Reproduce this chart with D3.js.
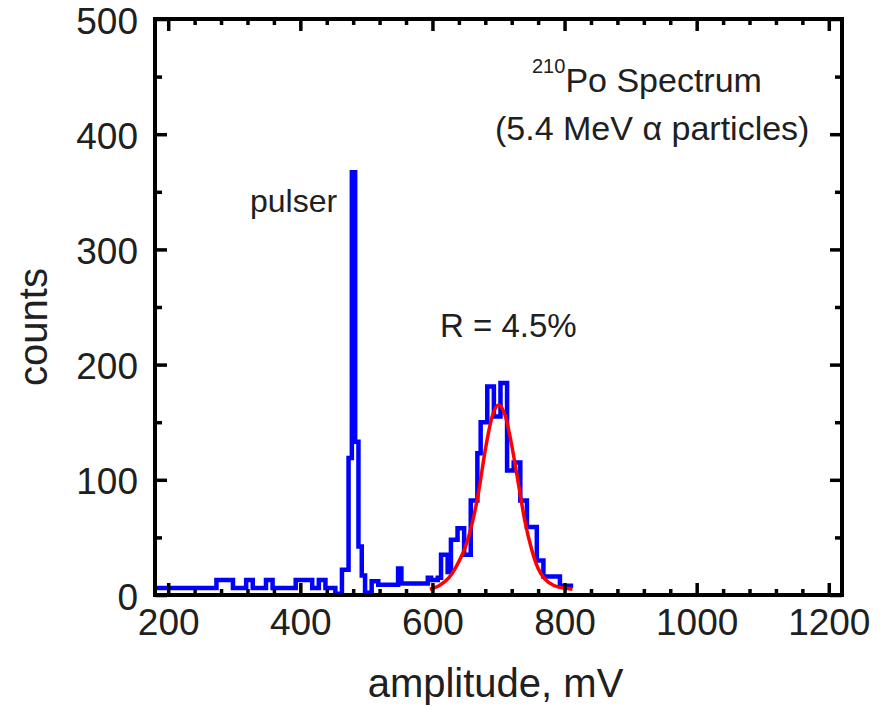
<!DOCTYPE html>
<html>
<head>
<meta charset="utf-8">
<script src="https://cdn.jsdelivr.net/npm/d3@7"></script>
<style>
  body { margin: 0; background: #fff; }
  text { font-family: "Liberation Sans", Arial, sans-serif; fill: #202020; }
</style>
</head>
<body>
<div class="chart"></div>
<script>
// 210Po spectrum histogram, 5 mV bins, first bin edge at 178 mV
var binStart = 178
var binWidth = 5
var counts = [
  6, 6, 6, 6, 6, 6, 6, 6, 6, 6,
  6, 6, 6, 6, 6, 6, 6, 6, 6, 13,
  13, 13, 13, 13, 6, 6, 6, 6, 13, 13,
  6, 6, 6, 6, 13, 13, 6, 6, 6, 6,
  6, 6, 6, 13, 13, 13, 13, 13, 6, 6,
  13, 13, 6, 6, 6, 1, 1, 22, 22, 119,
  367, 133, 42, 17, 2, 2, 12, 12, 9, 9,
  9, 9, 9, 9, 23, 10, 10, 10, 10, 10,
  10, 10, 10, 15, 13, 13, 15, 35, 35, 20,
  48, 48, 58, 58, 35, 35, 82, 82, 123, 150,
  150, 181, 181, 155, 155, 184, 184, 108, 108, 115,
  115, 82, 82, 59, 59, 59, 30, 30, 16, 16,
  16, 16, 16, 8, 8, 8, 8
]

// gaussian fit (red)
var fitAmplitude = [596, 610, 625, 640, 650, 660, 670, 680, 690, 700, 710, 720, 730, 740, 750, 760, 770, 785, 800, 812]
var fitCounts    = [5, 8, 15, 29, 42, 62, 90, 126, 154, 165, 156, 130, 97, 64, 40, 23, 14, 8, 6, 5]

var xMajorTicks = [200, 400, 600, 800, 1000, 1200]
var yMajorTicks = [0, 100, 200, 300, 400, 500]

var margin = { top: 19, right: 43, bottom: 115, left: 155 }
var width = 885 - margin.left - margin.right
var height = 710 - margin.top - margin.bottom

var svg = d3.select('.chart')
  .append('svg')
    .attr('width', width + margin.left + margin.right)
    .attr('height', height + margin.top + margin.bottom)
  .append('g')
    .attr('transform', `translate(${margin.left}, ${margin.top})`)

var xScale = d3.scaleLinear().domain([180, 1220]).range([0, width])
var yScale = d3.scaleLinear().domain([0, 500]).range([height, 0])

var xMinorTicks = d3.range(200, 1201, 40).filter(d => xMajorTicks.indexOf(d) < 0)
var yMinorTicks = d3.range(50, 500, 100)

svg.append('clipPath').attr('id', 'plot')
  .append('rect').attr('width', width).attr('height', height)

// histogram as a step line
var steps = counts.map((c, i) => [binStart + i * binWidth, c])
steps.push([binStart + counts.length * binWidth, counts[counts.length - 1]])

svg.append('path')
  .datum(steps)
  .attr('clip-path', 'url(#plot)')
  .attr('fill', 'none')
  .attr('stroke', '#0000ff')
  .attr('stroke-width', 4.5)
  .attr('d', d3.line().x(d => xScale(d[0])).y(d => yScale(d[1])).curve(d3.curveStepAfter))

svg.append('path')
  .datum(fitAmplitude.map((a, i) => [a, fitCounts[i]]))
  .attr('fill', 'none')
  .attr('stroke', '#ff0000')
  .attr('stroke-width', 3.5)
  .attr('d', d3.line().x(d => xScale(d[0])).y(d => yScale(d[1])).curve(d3.curveMonotoneX))

// axes: ticks point inward on all four sides
function styleAxis(g, size) {
  g.select('.domain').remove()
  g.attr('font-size', size).attr('font-family', null)
  g.selectAll('.tick line').attr('stroke', '#000').attr('stroke-width', 3.5)
}

svg.append('g')
  .attr('transform', `translate(0, ${height})`)
  .call(d3.axisBottom(xScale).tickValues(xMajorTicks).tickSize(-12).tickPadding(14).tickFormat(d3.format('d')))
  .call(g => styleAxis(g, 37))
svg.append('g')
  .attr('transform', `translate(0, ${height})`)
  .call(d3.axisBottom(xScale).tickValues(xMinorTicks).tickSize(-6).tickFormat(''))
  .call(g => styleAxis(g, 37))

svg.append('g')
  .call(d3.axisTop(xScale).tickValues(xMajorTicks).tickSize(-12).tickFormat(''))
  .call(g => styleAxis(g, 37))
svg.append('g')
  .call(d3.axisTop(xScale).tickValues(xMinorTicks).tickSize(-6).tickFormat(''))
  .call(g => styleAxis(g, 37))

svg.append('g')
  .call(d3.axisLeft(yScale).tickValues(yMajorTicks).tickSize(-12).tickPadding(17))
  .call(g => styleAxis(g, 37))
  .call(g => g.selectAll('.tick text').attr('dy', '0.38em'))
svg.append('g')
  .call(d3.axisLeft(yScale).tickValues(yMinorTicks).tickSize(-7).tickFormat(''))
  .call(g => styleAxis(g, 37))

svg.append('g')
  .attr('transform', `translate(${width}, 0)`)
  .call(d3.axisRight(yScale).tickValues(yMajorTicks).tickSize(-12).tickFormat(''))
  .call(g => styleAxis(g, 37))
svg.append('g')
  .attr('transform', `translate(${width}, 0)`)
  .call(d3.axisRight(yScale).tickValues(yMinorTicks).tickSize(-7).tickFormat(''))
  .call(g => styleAxis(g, 37))

svg.append('rect')
  .attr('width', width)
  .attr('height', height)
  .attr('fill', 'none')
  .attr('stroke', '#000')
  .attr('stroke-width', 4)

// titles
svg.append('text')
  .attr('x', width / 2 - 3)
  .attr('y', 697 - margin.top)
  .attr('text-anchor', 'middle')
  .attr('font-size', 40)
  .text('amplitude, mV')

svg.append('text')
  .attr('transform', `translate(${47 - margin.left}, ${327 - margin.top}) rotate(-90)`)
  .attr('text-anchor', 'middle')
  .attr('font-size', 40)
  .text('counts')

// annotations
svg.append('text')
  .attr('x', 250 - margin.left)
  .attr('y', 212 - margin.top)
  .attr('font-size', 32)
  .text('pulser')

svg.append('text')
  .attr('x', 440 - margin.left)
  .attr('y', 337 - margin.top)
  .attr('font-size', 33)
  .text('R = 4.5%')

var po = svg.append('text')
  .attr('x', 532 - margin.left)
  .attr('y', 92 - margin.top)
  .attr('font-size', 34)
po.append('tspan').attr('font-size', 20).attr('dy', -19).text('210')
po.append('tspan').attr('dy', 19).text('Po Spectrum')

svg.append('text')
  .attr('x', 495 - margin.left)
  .attr('y', 140 - margin.top)
  .attr('font-size', 34)
  .text('(5.4 MeV α particles)')
</script>
</body>
</html>
